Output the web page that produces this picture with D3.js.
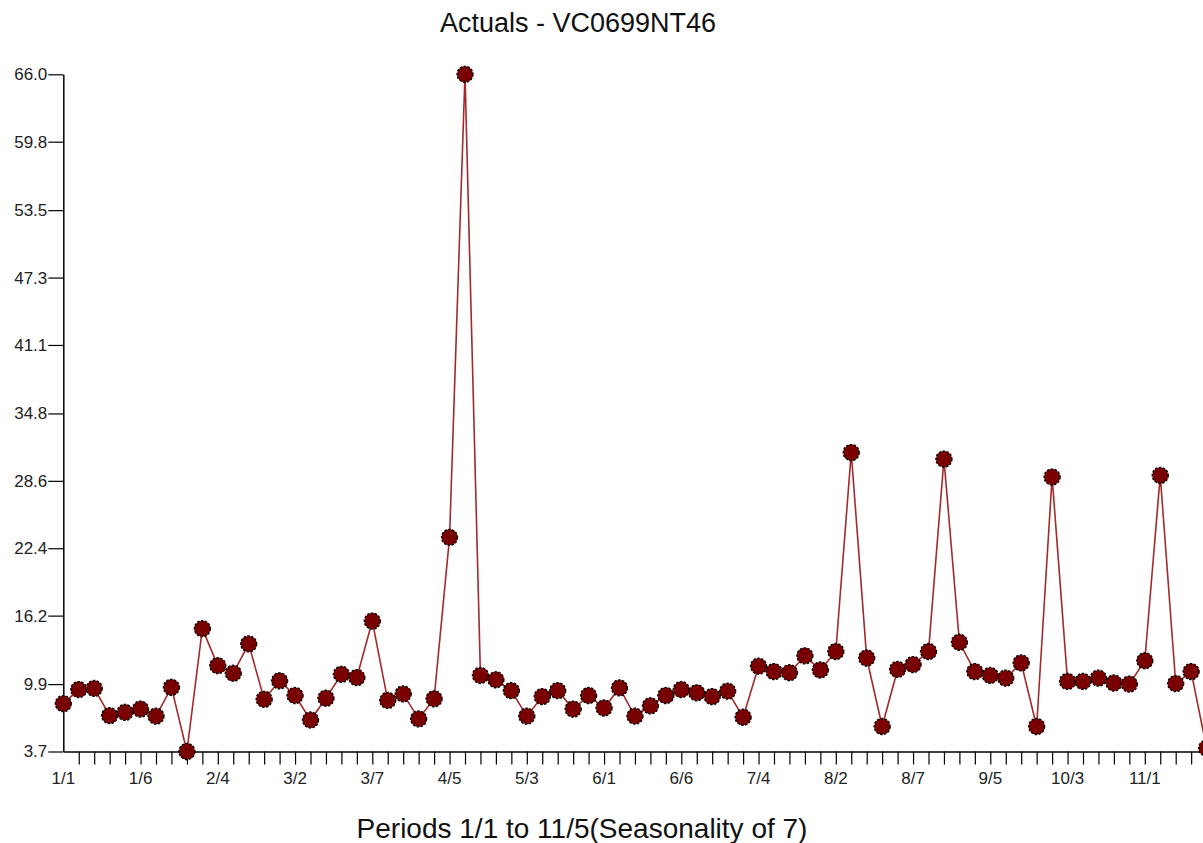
<!DOCTYPE html>
<html>
<head>
<meta charset="utf-8">
<script src="https://cdn.jsdelivr.net/npm/d3@7"></script>
<style>
  body { margin: 0; background: #fff; }
  svg { display: block; font-family: "Liberation Sans", Arial, sans-serif; }
</style>
</head>
<body>
<svg id="chart" width="1203" height="843"></svg>
<script>
// periods year/season, seasonality of 7
const periods = [
  "1/1","1/2","1/3","1/4","1/5","1/6","1/7",
  "2/1","2/2","2/3","2/4","2/5","2/6","2/7",
  "3/1","3/2","3/3","3/4","3/5","3/6","3/7",
  "4/1","4/2","4/3","4/4","4/5","4/6","4/7",
  "5/1","5/2","5/3","5/4","5/5","5/6","5/7",
  "6/1","6/2","6/3","6/4","6/5","6/6","6/7",
  "7/1","7/2","7/3","7/4","7/5","7/6","7/7",
  "8/1","8/2","8/3","8/4","8/5","8/6","8/7",
  "9/1","9/2","9/3","9/4","9/5","9/6","9/7",
  "10/1","10/2","10/3","10/4","10/5","10/6","10/7",
  "11/1","11/2","11/3","11/4","11/5"
];

const actuals = [
  8.1, 9.4, 9.5, 7.0, 7.3, 7.6, 6.95,
  9.6, 3.7, 15.0, 11.6, 10.9, 13.6, 8.5,
  10.2, 8.85, 6.6, 8.6, 10.8, 10.5, 15.7,
  8.4, 9.0, 6.7, 8.55, 23.4, 66.0, 10.7,
  10.3, 9.3, 6.95, 8.75, 9.3, 7.6, 8.85,
  7.7, 9.55, 6.95, 7.9, 8.85, 9.4, 9.1,
  8.75, 9.25, 6.85, 11.55, 11.05, 10.95, 12.5,
  11.2, 12.9, 31.2, 12.3, 6.0, 11.25, 11.7,
  12.9, 30.6, 13.75, 11.05, 10.7, 10.45, 11.85,
  6.0, 28.95, 10.15, 10.15, 10.45, 10.0, 9.9,
  12.05, 29.1, 9.95, 11.05, 4.0
];

const xTickLabels = ["1/1","1/6","2/4","3/2","3/7","4/5","5/3","6/1","6/6","7/4","8/2","8/7","9/5","10/3","11/1"];
const yTicks = [3.7, 9.9, 16.2, 22.4, 28.6, 34.8, 41.1, 47.3, 53.5, 59.8, 66.0];

const svg = d3.select("#chart");
const plotLeft = 63.3, plotBottom = 751.5, plotTop = 74.3;

const x = d3.scaleLinear().domain([0, periods.length - 1]).range([plotLeft, 1206.6]);
const y = d3.scaleLinear().domain([3.7, 66.0]).range([plotBottom, plotTop]);

// title
svg.append("text")
  .attr("x", 578).attr("y", 32)
  .attr("text-anchor", "middle")
  .attr("font-size", 27)
  .attr("fill", "#111")
  .text("Actuals - VC0699NT46");

svg.append("text")
  .attr("x", 582).attr("y", 838)
  .attr("text-anchor", "middle")
  .attr("font-size", 28)
  .attr("fill", "#111")
  .text("Periods 1/1 to 11/5(Seasonality of 7)");

// y axis
const yAxis = d3.axisLeft(y)
  .tickValues(yTicks)
  .tickFormat(d3.format(".1f"))
  .tickSize(15)
  .tickPadding(1)
  .tickSizeOuter(0);

const gy = svg.append("g")
  .attr("transform", `translate(${plotLeft},0)`)
  .call(yAxis);
gy.select(".domain").attr("stroke", "#000").attr("stroke-width", 1.5);
gy.selectAll(".tick line").attr("stroke", "#000").attr("stroke-width", 1.2);
gy.selectAll(".tick text")
  .attr("font-size", 17)
  .attr("font-family", "Liberation Sans, Arial, sans-serif")
  .attr("fill", "#222");

// x axis, tick on every period except the first
const xAxis = d3.axisBottom(x)
  .tickValues(d3.range(1, periods.length))
  .tickFormat("")
  .tickSize(13)
  .tickSizeOuter(0);

const gx = svg.append("g")
  .attr("transform", `translate(0,${plotBottom})`)
  .call(xAxis);
gx.select(".domain").attr("stroke", "#000").attr("stroke-width", 1.5);
gx.selectAll(".tick line").attr("stroke", "#000").attr("stroke-width", 1.2);

gx.selectAll(".xlabel")
  .data(xTickLabels)
  .enter().append("text")
  .attr("class", "xlabel")
  .attr("x", d => x(periods.indexOf(d)))
  .attr("y", 32)
  .attr("text-anchor", "middle")
  .attr("font-size", 17)
  .attr("fill", "#222")
  .text(d => d);

// line
const line = d3.line()
  .x((d, i) => x(i))
  .y(d => y(d));

svg.append("path")
  .datum(actuals)
  .attr("d", line)
  .attr("fill", "none")
  .attr("stroke", "#a32a2a")
  .attr("stroke-width", 1.6);

// markers
svg.selectAll(".pt")
  .data(actuals)
  .enter().append("circle")
  .attr("class", "pt")
  .attr("cx", (d, i) => x(i))
  .attr("cy", d => y(d))
  .attr("r", 8)
  .attr("fill", "#780000")
  .attr("stroke", "#000")
  .attr("stroke-width", 1.3)
  .attr("stroke-dasharray", "2.5,1.5");
</script>
</body>
</html>
